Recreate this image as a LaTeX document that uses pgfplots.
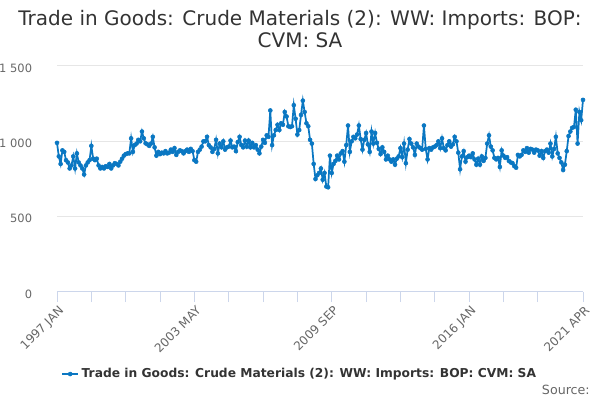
\documentclass[border=0pt]{standalone}
\usepackage{pgfplots}
\pgfplotsset{compat=1.18}
\usepackage{pgfplotstable}
\usepackage{fontspec}
\setmainfont{DejaVu Sans}
\definecolor{serblue}{HTML}{0A77C2}
\definecolor{txtdark}{HTML}{333333}
\definecolor{txtgray}{HTML}{666666}
\definecolor{gridc}{HTML}{E6E6E6}
\definecolor{axisc}{HTML}{CCD6EB}
\pgfplotstableread{
y
990
900
850
940
930
875
860
820
840
900
820
920
860
840
820
780
840
860
875
970
885
875
885
840
820
830
820
835
830
850
820
840
855
850
840
865
885
905
915
920
920
1020
930
975
985
1010
1000
1065
1020
987
980
970
985
1030
960
905
930
915
925
920
935
920
925
945
930
955
910
930
940
935
920
935
945
930
950
935
875
865
930
945
965
1000
1000
1030
975
960
930
950
1010
920
985
960
1000
945
960
965
1005
960
965
935
995
1030
975
960
1005
965
1005
960
990
960
975
945
920
965
1010
990
1040
1030
1205
975
1040
1075
1110
1075
1120
1110
1195
1165
1100
1095
1100
1240
1150
1045
1075
1175
1270
1195
1120
1100
1010
985
850
750
775
790
820
745
790
700
695
905
790
850
870
905
880
920
935
865
975
1105
930
1000
1030
1020
1045
1105
1015
945
1010
1055
980
930
1065
985
1055
990
950
915
960
930
880
905
880
865
880
845
885
900
955
895
985
855
945
1015
985
960
910
985
965
955
945
1105
950
880
955
945
960
965
975
1000
955
1020
955
940
975
1000
965
980
1030
1000
925
815
900
935
865
895
905
895
920
880
845
885
845
900
870
890
985
1040
965
940
890
880
890
830
940
905
890
895
870
860
855
835
825
910
900
910
940
930
955
925
950
945
925
945
940
905
935
890
935
945
925
985
900
950
1030
920
890
860
810
845
935
1035
1065
1090
1095
1210
985
1195
1140
1275
}\datatable
\begin{document}
\begin{tikzpicture}
\useasboundingbox (0,0) rectangle (450pt,300pt);
\node[align=center, text=txtdark, font=\fontsize{15}{16.5}\selectfont] at (225pt,278.5pt) {Trade in Goods: Crude Materials (2): WW: Imports: BOP:\\CVM: SA};
\begin{axis}[
  at={(42.75pt,81pt)}, anchor=south west,
  scale only axis, width=394.5pt, height=169.5pt,
  xmin=0, xmax=291, ymin=0, ymax=1500,
  clip=false,
  axis x line*=bottom,
  axis y line*=left,
  x axis line style={draw=axisc, line width=0.75pt, -},
  y axis line style={draw=none},
  ytick={0,500,1000,1500},
  yticklabels={0,500,1 000,1 500},
  ymajorgrids, grid style={gridc, line width=0.75pt},
  xtick={0,76,152,228,291},
  xticklabels={1997 JAN,2003 MAY,2009 SEP,2016 JAN,2021 APR},
  minor xtick={19,38,57,95,114,133,171,190,209,247,266},
  xtick style={draw=axisc, line width=0.75pt},
  tick align=outside, major tick length=7.5pt, minor tick length=7.5pt,
  ytick style={draw=none},
  /pgf/number format/assume math mode=true,
  ticklabel style={font=\fontsize{9}{11}\selectfont, text=txtgray},
  xticklabel style={rotate=45, anchor=north east, inner sep=1pt, yshift=-1pt},
  yticklabel style={anchor=east, inner sep=0pt, xshift=-11pt, yshift=-1.5pt, font=\fontsize{8.6}{10}\selectfont},
  legend style={at={(0.462,-0.363)}, anchor=center, draw=none, fill=none,
    font=\fontsize{9.2}{11}\selectfont\bfseries, text=txtdark, inner sep=0pt},
  legend image code/.code={\draw[#1,mark repeat=2,mark phase=2] plot coordinates {(0pt,0pt) (6pt,0pt) (12pt,0pt)};},
]
\addplot[serblue, line width=1.3pt, mark=*, mark size=1.5pt, mark options={solid, line width=0.4pt}]
  table[x expr=\coordindex, y=y] {\datatable};
\addlegendentry{Trade in Goods: Crude Materials (2): WW: Imports: BOP: CVM: SA}
\end{axis}
\node[anchor=base east, inner sep=0pt, text=txtgray, font=\fontsize{9.5}{11}\selectfont] at (442.5pt,4pt) {Source:};
\end{tikzpicture}
\end{document}
